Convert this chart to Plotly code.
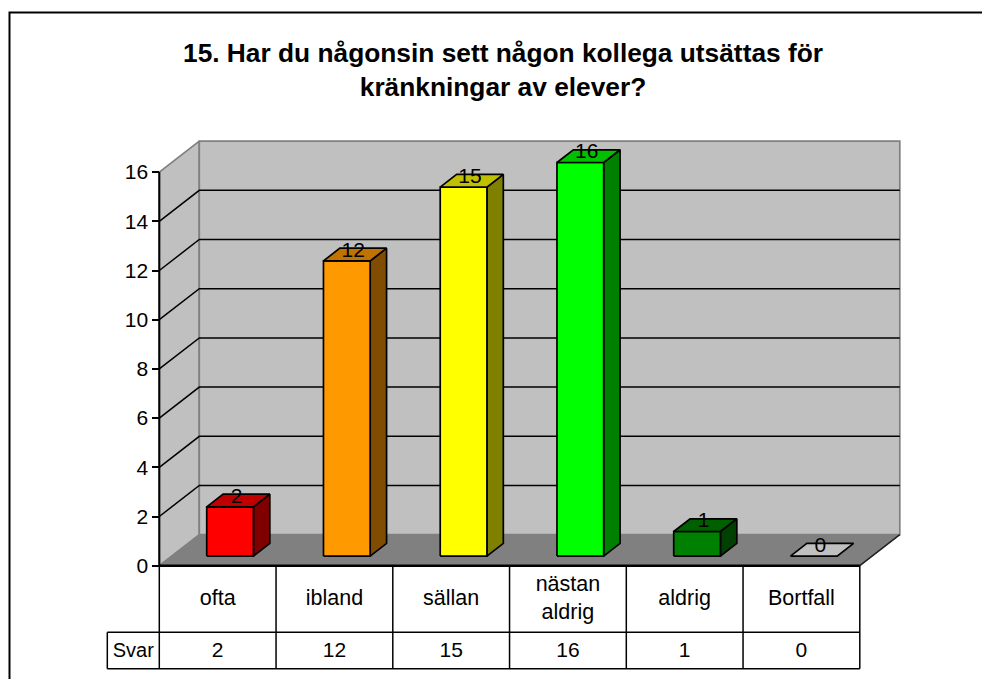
import plotly.graph_objects as go

# chart data
categories = ["ofta", "ibland", "sällan", "nästan<br>aldrig", "aldrig", "Bortfall"]
values = [2, 12, 15, 16, 1, 0]
y_ticks = [0, 2, 4, 6, 8, 10, 12, 14, 16]
row_name = "Svar"
title = "15. Har du någonsin sett någon kollega utsättas för<br>kränkningar av elever?"

front_colors = ["#FF0000", "#FF9900", "#FFFF00", "#00FF00", "#008000", "#C0C0C0"]
top_colors = ["#C00000", "#C07300", "#C0C000", "#00C000", "#006000", "#C0C0C0"]
side_colors = ["#800000", "#804D00", "#808000", "#008000", "#004000", "#808080"]

W, H = 982, 679
# pixel position of the front plane origin and scale of the axes
X0, Y0 = 159.3, 565.7
CAT_W = 116.75
UNIT = 24.6
# depth of the box, in pixels, and bar placement
DX, DY = 40, 31
BAR_D0, BAR_D1 = 0.31, 0.72
BAR_X0, BAR_X1 = 0.3, 0.7
LABEL_D = 0.47
LABEL_LIFT = 0.19
ROW1 = -(632.3 - Y0) / UNIT
ROW2 = -(668.7 - Y0) / UNIT
NAME_X = -(X0 - 107.3) / CAT_W
FONT = "Liberation Sans"
TEXT_SIZE = 21
n = len(categories)


def proj(x, y, d=0.0):
    # oblique projection: depth shifts right and up
    return x + d * DX / CAT_W, y + d * DY / UNIT


def poly(points, fill, line="black", width=1.7):
    xs, ys = zip(*points)
    return go.Scatter(x=list(xs) + [xs[0]], y=list(ys) + [ys[0]], mode="lines", fill="toself",
                      fillcolor=fill, line=dict(color=line, width=width),
                      hoverinfo="skip", showlegend=False)


def seg(points, color="black", width=1.5):
    xs, ys = zip(*points)
    return go.Scatter(x=list(xs), y=list(ys), mode="lines", line=dict(color=color, width=width),
                      hoverinfo="skip", showlegend=False)


def labels(xs, ys, texts, size=TEXT_SIZE):
    return go.Scatter(x=list(xs), y=list(ys), mode="text", text=texts, textposition="middle center",
                      textfont=dict(family=FONT, size=size, color="black"),
                      hoverinfo="skip", showlegend=False)


fig = go.Figure()
top = y_ticks[-1]

# walls and floor
fig.add_trace(poly([proj(0, 0), proj(0, 0, 1), proj(0, top, 1), proj(0, top)], "#C0C0C0", "#808080"))
fig.add_trace(poly([proj(0, 0, 1), proj(n, 0, 1), proj(n, top, 1), proj(0, top, 1)], "#C0C0C0", "#808080"))
fig.add_trace(poly([proj(0, 0), proj(n, 0), proj(n, 0, 1), proj(0, 0, 1)], "#808080", "#808080", 1))
fig.add_trace(seg([proj(n, 0), proj(n, 0, 1)], "#202020"))

# gridlines
for v in y_ticks[1:-1]:
    fig.add_trace(seg([proj(0, v), proj(0, v, 1), proj(n, v, 1)]))

# bars
for i, v in enumerate(values):
    x0, x1 = i + BAR_X0, i + BAR_X1
    d0, d1 = BAR_D0, BAR_D1
    if v > 0:
        fig.add_trace(poly([proj(x1, 0, d0), proj(x1, 0, d1), proj(x1, v, d1), proj(x1, v, d0)], side_colors[i]))
        fig.add_trace(poly([proj(x0, 0, d0), proj(x1, 0, d0), proj(x1, v, d0), proj(x0, v, d0)], front_colors[i]))
    fig.add_trace(poly([proj(x0, v, d0), proj(x1, v, d0), proj(x1, v, d1), proj(x0, v, d1)], top_colors[i]))

# value labels sit just above the middle of the bar top
xs, ys = zip(*[proj(i + 0.5, v + LABEL_LIFT, LABEL_D) for i, v in enumerate(values)])
fig.add_trace(labels(xs, ys, [str(v) for v in values]))

# front axis lines
fig.add_trace(seg([(0, 0), (0, top)], width=2))
fig.add_trace(seg([(0, 0), (n, 0)], width=2.5))

# data table under the chart
fig.add_trace(seg([(NAME_X, ROW1), (n, ROW1)]))
fig.add_trace(seg([(NAME_X, ROW2), (n, ROW2)]))
fig.add_trace(seg([(NAME_X, ROW1), (NAME_X, ROW2)]))
for i in range(n + 1):
    fig.add_trace(seg([(i, 0), (i, ROW2)]))

centres = [i + 0.5 for i in range(n)]
row1_y = ROW1 / 2 - 1 / UNIT
row2_y = (ROW1 + ROW2) / 2 - 1.5 / UNIT
fig.add_trace(labels(centres, [row1_y] * n, categories, size=21.5))
fig.add_trace(labels(centres, [row2_y] * n, [str(v) for v in values]))
fig.add_trace(labels([NAME_X / 2], [row2_y], [row_name], size=20))

# chart frame, runs off the right and bottom of the picture
fig.add_shape(type="rect", xref="paper", yref="paper", x0=9.5 / W, x1=1.2, y0=1 - 12.5 / H, y1=-0.2,
              line=dict(color="black", width=2), fillcolor="rgba(0,0,0,0)", layer="below")

fig.update_layout(
    width=W, height=H, margin=dict(l=0, r=0, t=0, b=0),
    paper_bgcolor="white", plot_bgcolor="white",
    title=dict(text=title, x=503 / W, xanchor="center", y=1 - 61.5 / H, yanchor="middle",
               font=dict(family=FONT, size=26.3, color="black", weight="bold")),
    xaxis=dict(range=[-X0 / CAT_W, (W - X0) / CAT_W], visible=False, domain=[0, 1]),
    yaxis=dict(range=[-(H - Y0) / UNIT, Y0 / UNIT], domain=[0, 1], anchor="free", position=X0 / W,
               tickvals=y_ticks, ticks="outside", ticklen=7, tickwidth=2, tickcolor="black",
               showgrid=False, zeroline=False, showline=False,
               tickfont=dict(family=FONT, size=TEXT_SIZE, color="black")),
)

# the page's default body margin would push the figure 8px off
fig.write_html("out.html", config=dict(displayModeBar=False),
               post_script="document.body.style.margin='0';")
